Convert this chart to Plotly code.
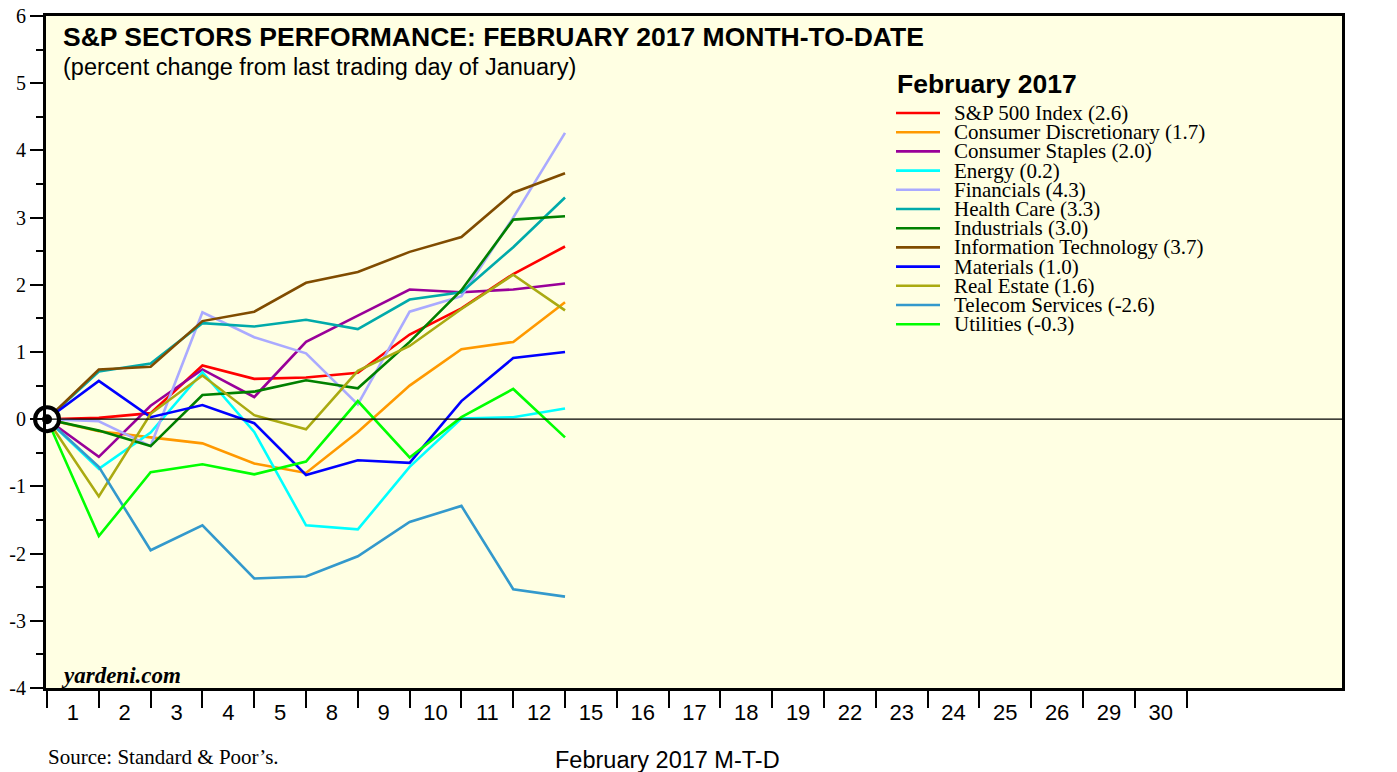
import plotly.graph_objects as go

# ---- data ----
x_labels = ["1", "2", "3", "4", "5", "8", "9", "10", "11", "12", "15", "16", "17",
            "18", "19", "22", "23", "24", "25", "26", "29", "30"]
steps = list(range(11))  # 0 = last trading day of January, then trading days
y_ticks = [-4, -3, -2, -1, 0, 1, 2, 3, 4, 5, 6]
y_ticktext = ["-4", "-3", "-2", "-1", "0", "1", "2", "3", "4", "5", "6"]

sp500 = [0, 0.02, 0.09, 0.80, 0.60, 0.62, 0.69, 1.26, 1.65, 2.16, 2.57]
cons_disc = [0, -0.18, -0.27, -0.36, -0.66, -0.80, -0.19, 0.50, 1.04, 1.15, 1.74]
cons_stap = [0, -0.56, 0.20, 0.74, 0.33, 1.15, 1.54, 1.93, 1.89, 1.93, 2.02]
energy = [0, -0.74, -0.20, 0.70, -0.19, -1.58, -1.64, -0.71, 0.01, 0.03, 0.16]
financials = [0, -0.03, -0.40, 1.59, 1.22, 0.98, 0.22, 1.60, 1.83, 3.00, 4.26]
health = [0, 0.71, 0.83, 1.43, 1.38, 1.48, 1.34, 1.78, 1.89, 2.56, 3.30]
industrials = [0, -0.17, -0.40, 0.36, 0.41, 0.58, 0.46, 1.15, 1.92, 2.97, 3.02]
info_tech = [0, 0.74, 0.78, 1.46, 1.60, 2.03, 2.19, 2.49, 2.71, 3.37, 3.66]
materials = [0, 0.57, 0.03, 0.21, -0.06, -0.83, -0.61, -0.65, 0.27, 0.91, 1.00]
real_estate = [0, -1.15, 0.08, 0.65, 0.06, -0.15, 0.72, 1.09, 1.64, 2.15, 1.62]
telecom = [0, -0.71, -1.95, -1.58, -2.37, -2.34, -2.04, -1.53, -1.29, -2.53, -2.64]
utilities = [0, -1.74, -0.79, -0.67, -0.82, -0.63, 0.27, -0.57, 0.03, 0.45, -0.27]

names = ["S&P 500 Index (2.6)", "Consumer Discretionary (1.7)", "Consumer Staples (2.0)",
         "Energy (0.2)", "Financials (4.3)", "Health Care (3.3)", "Industrials (3.0)",
         "Information Technology (3.7)", "Materials (1.0)", "Real Estate (1.6)",
         "Telecom Services (-2.6)", "Utilities (-0.3)"]
series = [sp500, cons_disc, cons_stap, energy, financials, health, industrials,
          info_tech, materials, real_estate, telecom, utilities]
colors = ["#FF0000", "#FF9900", "#990099", "#00FFFF", "#AAAAFF", "#00AAAA", "#008000",
          "#804C00", "#0000FF", "#AAAA11", "#3399CC", "#00FF00"]

# ---- layout geometry (pixels) ----
W, H = 1397, 772
L, R, T, B = 46, 1342, 16, 688


def px(xp):
    return (xp - L) / (R - L)


def py(yp):
    return (B - yp) / (B - T)


fig = go.Figure()

for name, ys, c in zip(names, series, colors):
    fig.add_trace(go.Scatter(x=steps, y=ys, mode="lines", name=name,
                             line=dict(color=c, width=2.6), showlegend=False))

# start marker
fig.add_trace(go.Scatter(x=[steps[0]], y=[sp500[0]], mode="markers", showlegend=False,
                         cliponaxis=False,
                         marker=dict(size=24, color="white", line=dict(color="black", width=4))))
fig.add_trace(go.Scatter(x=[steps[0]], y=[sp500[0]], mode="markers", showlegend=False,
                         cliponaxis=False,
                         marker=dict(size=10, color="black")))

serif = "Liberation Serif"
sans = "Liberation Sans"

annotations = [
    dict(text="<b>S&P SECTORS PERFORMANCE: FEBRUARY 2017 MONTH-TO-DATE</b>",
         x=px(61), y=py(37), xref="paper", yref="paper", xanchor="left", yanchor="middle",
         showarrow=False, font=dict(family=sans, size=26.5, color="black")),
    dict(text="(percent change from last trading day of January)",
         x=px(61), y=py(67), xref="paper", yref="paper", xanchor="left", yanchor="middle",
         showarrow=False, font=dict(family=sans, size=23.5, color="black")),
    dict(text="<b>February 2017</b>",
         x=px(895), y=py(84), xref="paper", yref="paper", xanchor="left", yanchor="middle",
         showarrow=False, font=dict(family=sans, size=26.5, color="black")),
    dict(text="<b><i>yardeni.com</i></b>",
         x=px(59), y=py(675), xref="paper", yref="paper", xanchor="left", yanchor="middle",
         showarrow=False, font=dict(family=serif, size=23, color="black")),
    dict(text="Source: Standard & Poor’s.",
         x=px(46), y=py(757), xref="paper", yref="paper", xanchor="left", yanchor="middle",
         showarrow=False, font=dict(family=serif, size=21, color="black")),
    dict(text="February 2017 M-T-D",
         x=px(667), y=py(760), xref="paper", yref="paper", xanchor="center", yanchor="middle",
         showarrow=False, font=dict(family=sans, size=23.5, color="black")),
]

shapes = []
for i, (name, c) in enumerate(zip(names, colors)):
    yy = 113 + 19.2 * i
    shapes.append(dict(type="line", xref="paper", yref="paper", x0=px(896), x1=px(940),
                       y0=py(yy), y1=py(yy), line=dict(color=c, width=2.6)))
    annotations.append(dict(text=name, x=px(952), y=py(yy), xref="paper", yref="paper",
                            xanchor="left", yanchor="middle", showarrow=False,
                            font=dict(family=serif, size=21, color="black")))

# zero line
shapes.append(dict(type="line", xref="paper", yref="y", x0=0, x1=1, y0=0, y1=0,
                   line=dict(color="black", width=1.2), layer="above"))

n = len(x_labels)
ytick_common = dict(range=[-4, 6], showgrid=False, zeroline=False, tickmode="array",
                    tickvals=y_ticks, ticktext=y_ticktext,
                    ticks="outside", ticklen=13, tickwidth=1.5, tickcolor="black",
                    minor=dict(tickmode="array", tickvals=[v + 0.5 for v in y_ticks[:-1]],
                               ticks="outside", ticklen=7, tickwidth=1.5, tickcolor="black",
                               showgrid=False),
                    tickfont=dict(family=serif, size=20, color="black"), automargin=False)

fig.update_layout(
    width=W, height=H,
    margin=dict(l=L, r=W - R, t=T, b=H - B, autoexpand=False),
    paper_bgcolor="white", plot_bgcolor="#FFFFE3",
    showlegend=False,
    annotations=annotations, shapes=shapes,
    xaxis=dict(range=[-0.02, 25.0], showgrid=False, zeroline=False,
               tickmode="array", tickvals=[i + 0.5 for i in range(n)], ticktext=x_labels,
               ticks="", tickfont=dict(family=sans, size=22, color="black"),
               ticklabelstandoff=3,
               minor=dict(tickmode="array", tickvals=list(range(n + 1)), ticks="outside",
                          ticklen=17, tickwidth=2, tickcolor="black", showgrid=False),
               showline=True, linecolor="black", linewidth=3, mirror=True, automargin=False),
    yaxis=dict(**ytick_common, showline=True, linecolor="black", linewidth=3, mirror=True),
    yaxis2=dict(**ytick_common, overlaying="y", side="right", showline=False),
)

fig.write_html("out.html", config={"displayModeBar": False},
               post_script="document.body.style.margin='0';document.body.style.overflow='hidden';")
